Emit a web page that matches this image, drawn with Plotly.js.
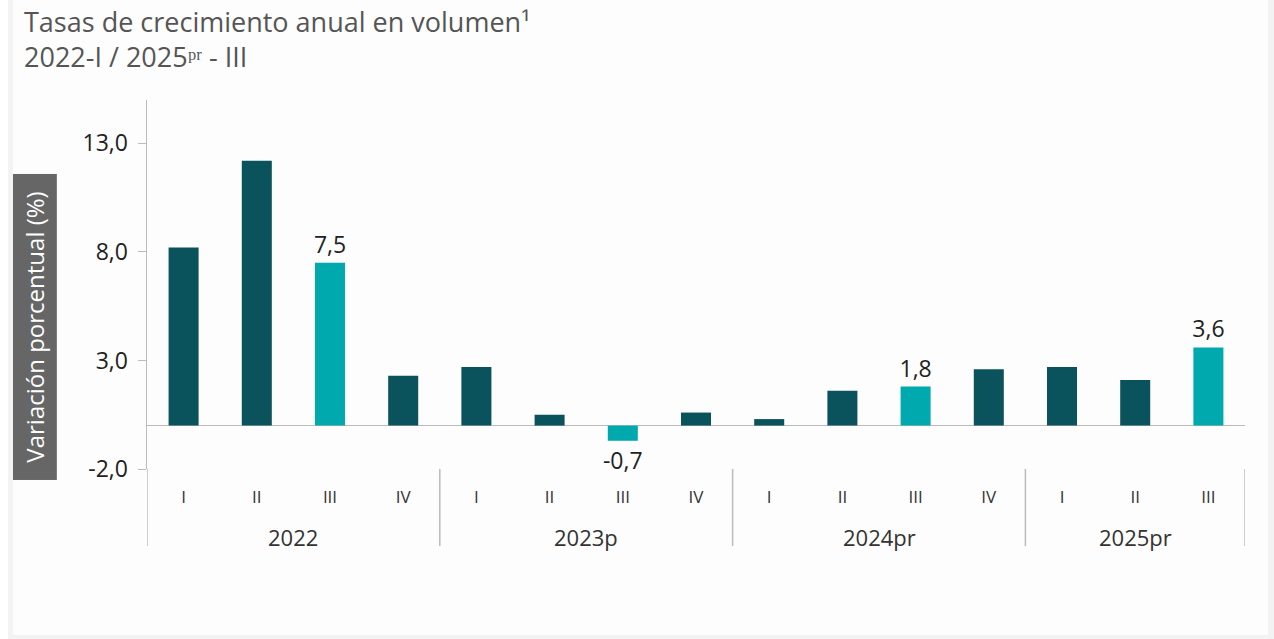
<!DOCTYPE html>
<html><head><meta charset="utf-8">
<script src="https://cdn.plot.ly/plotly-3.0.1.min.js"></script>
<style>
html,body{margin:0;padding:0;background:#fff;}
#frame{position:absolute;left:8px;top:0;width:1266px;height:639px;background:#f3f3f3;}
#chart{position:absolute;left:5px;top:0;width:1255px;height:635px;background:#fdfdfd;}
</style></head>
<body>
<div id="frame"><div id="chart"></div></div>
<script>
const years    = ['2022','2022','2022','2022','2023p','2023p','2023p','2023p','2024pr','2024pr','2024pr','2024pr','2025pr','2025pr','2025pr'];
const quarters = ['I','II','III','IV','I','II','III','IV','I','II','III','IV','I','II','III'];
const values   = [8.2, 12.2, 7.5, 2.3, 2.7, 0.5, -0.7, 0.6, 0.3, 1.6, 1.8, 2.6, 2.7, 2.1, 3.6];
const highlighted = [false,false,true,false,false,false,true,false,false,false,true,false,false,false,true];
const yearGroups = ['2022','2023p','2024pr','2025pr'];
const yTicks = [-2, 3, 8, 13];

const dark = '#0a535c', light = '#00a9ae';
const cats = years.map((y,i)=>y+' '+quarters[i]);
const fmt = v => v.toFixed(1).replace('.', ',');

const darkTrace = {
  type:'bar', x:cats, y:values.map((v,i)=>highlighted[i]?null:v), width:0.41,
  marker:{color:dark}, hoverinfo:'skip'
};
const lightTrace = {
  type:'bar', x:cats, y:values.map((v,i)=>highlighted[i]?v:null), width:0.41,
  marker:{color:light},
  text: values.map((v,i)=>highlighted[i]?fmt(v):null),
  textposition:'outside', cliponaxis:false, constraintext:'none',
  textfont:{family:'Open Sans', size:23, color:'#222'},
  hoverinfo:'skip'
};

const annotations = [];
const shapes = [];
const bounds = [-0.5];
yearGroups.forEach(g=>{
  const idx = years.map((y,i)=>y===g?i:-1).filter(i=>i>=0);
  const mid = (idx[0]+idx[idx.length-1])/2;
  annotations.push({xref:'x', yref:'paper', x:mid, y:-0.184, text:g, showarrow:false,
    font:{family:'Open Sans', size:22, color:'#333'}, xanchor:'center', yanchor:'middle'});
  bounds.push(idx[idx.length-1]+0.5);
});
bounds.forEach(b=>{
  shapes.push({type:'line', xref:'x', yref:'paper', x0:b, x1:b, y0:0, y1:-0.209,
    line:{color:'#bbbbbb', width:1.5}});
});

annotations.push({xref:'paper', yref:'paper', x:-0.103, y:0.386, text:'Variación porcentual (%)',
  textangle:-90, showarrow:false, bgcolor:'#666666', width:303, height:42,
  font:{family:'Open Sans', size:24, color:'#ffffff'}, xanchor:'center', yanchor:'middle'});
annotations.push({xref:'paper', yref:'paper', x:-0.114, y:1.2683, xanchor:'left', yanchor:'top', align:'left',
  text:'Tasas de crecimiento anual en volumen¹<br>2022-I / 2025ᵖʳ - III', showarrow:false,
  font:{family:'Open Sans', size:27, color:'#555'}});

const layout = {
  width:1255, height:635,
  margin:{l:134, r:23, t:100, b:166},
  paper_bgcolor:'#fdfdfd', plot_bgcolor:'#fdfdfd',
  showlegend:false, barmode:'overlay',
  xaxis:{type:'category', range:[-0.5,14.5], tickvals:cats, ticktext:quarters,
    showgrid:false, zeroline:false, showline:false, ticks:'outside', ticklen:13, tickcolor:'rgba(0,0,0,0)',
    tickfont:{family:'Open Sans', size:17, color:'#333'}, fixedrange:true},
  yaxis:{range:[-2,15], tickvals:yTicks, ticktext:yTicks.map(fmt), showgrid:false,
    zeroline:true, zerolinecolor:'#bbbbbb', zerolinewidth:1.5,
    showline:true, linecolor:'#bbbbbb', linewidth:1.5,
    ticks:'outside', ticklen:8, tickcolor:'#bbbbbb', ticklabelstandoff:5,
    tickfont:{family:'Open Sans', size:23, color:'#222'}, fixedrange:true},
  annotations, shapes
};
Plotly.newPlot('chart', [darkTrace, lightTrace], layout, {staticPlot:true});
</script>
</body></html>
